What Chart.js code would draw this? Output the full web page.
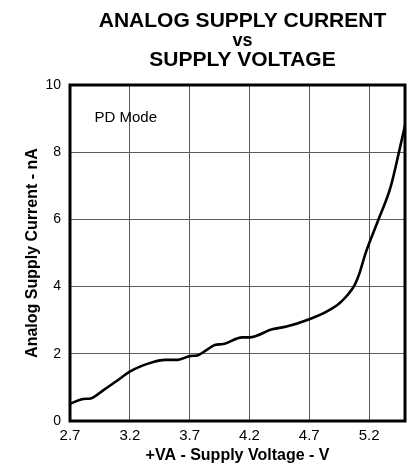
<!DOCTYPE html>
<html>
<head>
<meta charset="utf-8">
<script src="https://cdn.jsdelivr.net/npm/chart.js@4/dist/chart.umd.min.js"></script>
<style>
  html, body { margin: 0; padding: 0; background: #fff; }
  canvas { display: block; }
</style>
</head>
<body>
<canvas id="c" width="409" height="466"></canvas>
<script>
// Supply voltage (V) and analog supply current (nA) in power-down mode
const supplyVoltage = [2.70, 2.80, 2.88, 2.98, 3.09, 3.20, 3.30, 3.39, 3.49, 3.60, 3.70, 3.77, 3.84, 3.91, 3.98, 4.14, 4.20, 4.39, 4.51, 4.70, 4.84, 4.95, 5.02, 5.08, 5.12, 5.17, 5.28, 5.38, 5.45, 5.50];
const supplyCurrent = [0.51, 0.65, 0.68, 0.92, 1.19, 1.47, 1.64, 1.75, 1.82, 1.82, 1.93, 1.96, 2.11, 2.26, 2.29, 2.49, 2.49, 2.73, 2.81, 3.03, 3.25, 3.50, 3.75, 4.05, 4.40, 4.99, 6.01, 6.97, 8.01, 8.80];
const xTicks = [2.7, 3.2, 3.7, 4.2, 4.7, 5.2];
const yTicks = [0, 2, 4, 6, 8, 10];
const titleLines = ['ANALOG SUPPLY CURRENT', 'vs', 'SUPPLY VOLTAGE'];
const noteText = 'PD Mode';

const FONT = '"Liberation Sans", Arial, Helvetica, sans-serif';

const points = supplyVoltage.map((v, i) => ({ x: v, y: supplyCurrent[i] }));

// Heading, mode note and heavy plot frame
const decorations = {
  id: 'decorations',
  afterDraw(chart) {
    const ctx = chart.ctx;
    const a = chart.chartArea;
    const xs = chart.scales.x, ys = chart.scales.y;
    ctx.save();
    ctx.fillStyle = '#000';
    ctx.textAlign = 'center';
    ctx.textBaseline = 'alphabetic';
    ctx.font = 'bold 21px ' + FONT;
    ctx.fillText(titleLines[0], 242.5, 27);
    ctx.font = 'bold 18px ' + FONT;
    ctx.fillText(titleLines[1], 242.5, 46);
    ctx.font = 'bold 21px ' + FONT;
    ctx.fillText(titleLines[2], 242.5, 66);

    ctx.textAlign = 'left';
    ctx.font = '15px ' + FONT;
    ctx.fillText(noteText, xs.getPixelForValue(2.905), ys.getPixelForValue(8.9));

    ctx.strokeStyle = '#000';
    ctx.lineWidth = 3;
    ctx.strokeRect(a.left, a.top, a.right - a.left, a.bottom - a.top);
    ctx.restore();
  }
};

new Chart(document.getElementById('c'), {
  type: 'line',
  data: {
    datasets: [{
      data: points,
      borderColor: '#000',
      borderWidth: 2.6,
      pointRadius: 0,
      fill: false,
      cubicInterpolationMode: 'monotone'
    }]
  },
  options: {
    responsive: false,
    animation: false,
    devicePixelRatio: 1,
    layout: { padding: { top: 85, right: 4, left: 0, bottom: 0 } },
    plugins: {
      legend: { display: false },
      title: { display: false },
      tooltip: { enabled: false }
    },
    scales: {
      x: {
        type: 'linear',
        min: 2.7,
        max: 5.5,
        afterBuildTicks: s => { s.ticks = xTicks.map(v => ({ value: v })); },
        afterFit: s => { s.height = 45; },
        grid: { color: '#5c5c5c', lineWidth: 1, drawTicks: false },
        border: { display: false },
        ticks: {
          autoSkip: false,
          maxRotation: 0,
          padding: 6,
          color: '#000',
          font: { family: FONT, size: 15 },
          callback: v => Number(v).toFixed(1)
        },
        title: {
          display: true,
          text: '+VA - Supply Voltage - V',
          color: '#000',
          font: { family: FONT, size: 16, weight: 'bold' },
          padding: { top: 0, bottom: 0.5 }
        }
      },
      y: {
        type: 'linear',
        min: 0,
        max: 10,
        afterBuildTicks: s => { s.ticks = yTicks.map(v => ({ value: v })); },
        afterFit: s => { s.width = 70; },
        grid: { color: '#5c5c5c', lineWidth: 1, drawTicks: false },
        border: { display: false },
        ticks: {
          autoSkip: false,
          padding: 9,
          color: '#000',
          font: { family: FONT, size: 14 },
          callback: v => String(v)
        },
        title: {
          display: true,
          text: 'Analog Supply Current - nA',
          color: '#000',
          font: { family: FONT, size: 16, weight: 'bold' },
          padding: { top: 23, bottom: 0 }
        }
      }
    }
  },
  plugins: [decorations]
});
</script>
</body>
</html>
